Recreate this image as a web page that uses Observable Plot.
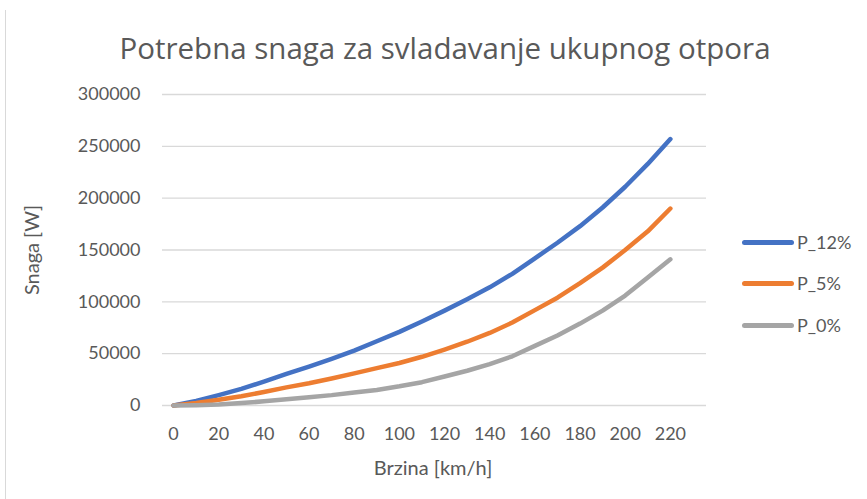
<!DOCTYPE html>
<html>
<head>
<meta charset="utf-8">
<script src="https://cdn.jsdelivr.net/npm/d3@7"></script>
<script src="https://cdn.jsdelivr.net/npm/@observablehq/plot@0.6"></script>
<style>
  html, body { margin: 0; padding: 0; background: #fff; }
  body { width: 867px; height: 499px; position: relative; overflow: hidden; font-family: Lato, sans-serif; color: #595959; }
  #title { position: absolute; left: 445px; top: 47px; transform: translate(-50%, -50%); white-space: nowrap; font-family: "Open Sans", sans-serif; font-size: 29.5px; color: #595959; }
  #chart { position: absolute; left: 0; top: 72px; }
  #border { position: absolute; left: 5px; top: 10px; bottom: 0; width: 1px; background: #d9d9d9; }
  .leg { position: absolute; left: 742px; height: 20px; display: flex; align-items: center; font-size: 18px; color: #595959; }
  .leg span.sw { display: inline-block; width: 52px; height: 5px; border-radius: 3px; margin-right: 3px; }
  #xlab, #ylab { position: absolute; font-size: 20px; color: #595959; white-space: nowrap; }
</style>
</head>
<body>
<div id="border"></div>
<div id="title">Potrebna snaga za svladavanje ukupnog otpora</div>
<div id="chart"></div>
<div id="legend"></div>
<script>
const speeds = [0,10,20,30,40,50,60,70,80,90,100,110,120,130,140,150,160,170,180,190,200,210,220];
const p12 = [0,4500,10000,16000,23000,30500,37500,45000,53000,62000,71000,81000,91500,102500,114000,127000,142000,157000,173000,191000,211000,233000,257000];
const p5  = [0,2500,5500,9000,13000,17500,21500,26000,31000,36000,41000,47000,54000,61500,70000,80000,92000,104000,118000,133000,150000,168000,190000];
const p0  = [0,300,1000,2300,4000,6000,8000,10000,12500,15000,18500,22500,28000,33500,40000,47500,57500,67500,79000,91500,106000,123500,141000];
const seriesNames = ["P_12%", "P_5%", "P_0%"];
const seriesColors = ["#4472C4", "#ED7D31", "#A5A5A5"];
const xTicks = [0,20,40,60,80,100,120,140,160,180,200,220];
const yTicks = [0,50000,100000,150000,200000,250000,300000];
const xTitle = "Brzina [km/h]";
const yTitle = "Snaga [W]";

const allSeries = [p12, p5, p0];
const data = [];
allSeries.forEach((vals, i) => vals.forEach((v, j) => data.push({speed: speeds[j], power: v, series: seriesNames[i]})));

const plot = Plot.plot({
  width: 867,
  height: 427,
  marginLeft: 162,
  marginRight: 161,
  marginTop: 22,
  marginBottom: 94,
  style: { fontFamily: "Lato, sans-serif", fontSize: "18px", color: "#595959", background: "transparent" },
  x: { domain: [-4.9, 236], ticks: xTicks, tickFormat: d => String(d) },
  y: { domain: [0, 300000], ticks: yTicks, tickFormat: d => String(d) },
  color: { domain: seriesNames, range: seriesColors },
  marks: [
    Plot.gridY(yTicks, { stroke: "#d9d9d9", strokeOpacity: 1, strokeWidth: 1.3 }),
    Plot.axisY(yTicks, { tickSize: 0, tickPadding: 22, label: null, fill: "#595959", tickFormat: d => String(d) }),
    Plot.axisX(xTicks, { tickSize: 0, tickPadding: 22, label: null, fill: "#595959", tickFormat: d => String(d) }),
    Plot.line(data, { x: "speed", y: "power", z: "series", stroke: "series", strokeWidth: 4.5, strokeLinecap: "round", strokeLinejoin: "round" })
  ]
});
document.getElementById("chart").appendChild(plot);

// axis titles
const xl = document.createElement("div");
xl.id = "xlab"; xl.textContent = xTitle;
xl.style.left = "433px"; xl.style.top = "467px"; xl.style.transform = "translate(-50%, -50%)";
document.body.appendChild(xl);
const yl = document.createElement("div");
yl.id = "ylab"; yl.textContent = yTitle;
yl.style.left = "31px"; yl.style.top = "250px"; yl.style.transform = "translate(-50%, -50%) rotate(-90deg)";
document.body.appendChild(yl);

// legend
const legTops = [242, 283, 325];
seriesNames.forEach((n, i) => {
  const d = document.createElement("div");
  d.className = "leg";
  d.style.top = (legTops[i] - 10) + "px";
  const sw = document.createElement("span");
  sw.className = "sw"; sw.style.background = seriesColors[i];
  d.appendChild(sw);
  const t = document.createElement("span");
  t.textContent = n;
  d.appendChild(t);
  document.getElementById("legend").appendChild(d);
});
</script>
</body>
</html>
